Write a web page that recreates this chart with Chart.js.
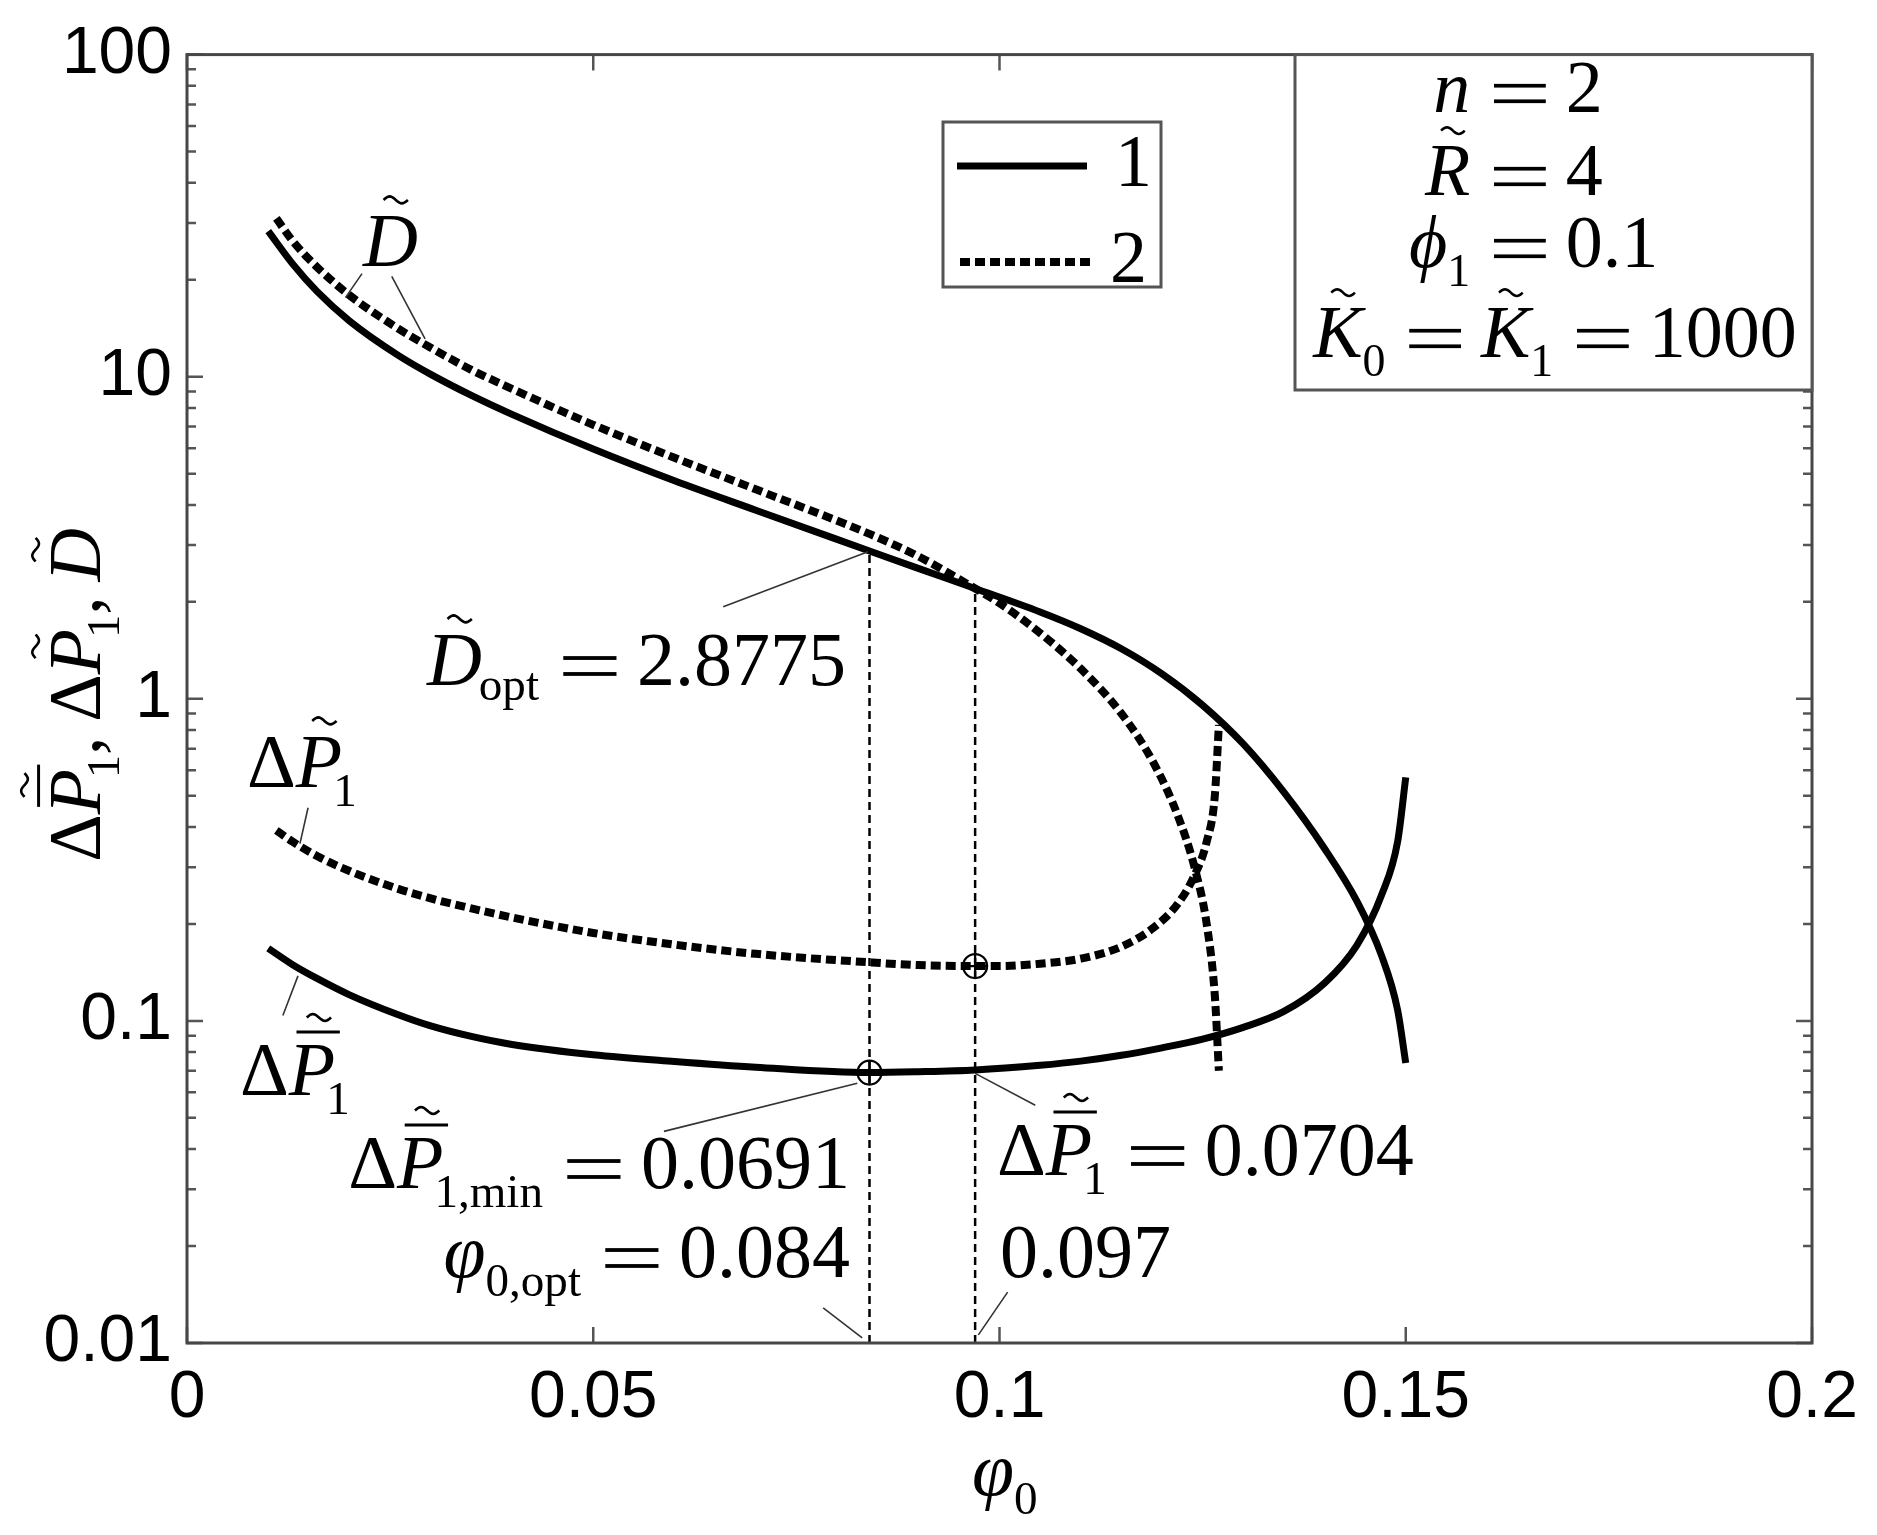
<!DOCTYPE html>
<html><head><meta charset="utf-8">
<script src="https://cdn.jsdelivr.net/npm/chart.js@4.4.1/dist/chart.umd.min.js"></script>
<style>html,body{margin:0;padding:0;background:#fff;}canvas{display:block;}</style>
</head><body>
<canvas id="c" width="1877" height="1535"></canvas>
<script>
// ---- data ----
const phi1 = [0.010,0.013,0.016,0.020,0.026,0.030,0.035,0.040,0.050,0.060,0.070,0.084,0.090,0.097,0.105,0.110,0.115,0.120,0.125,0.130,0.135,0.140,0.144,0.147,0.149,0.150];
const D1   = [28.3,22.4,18.4,14.9,11.65,10.17,8.75,7.64,5.96,4.75,3.85,2.8775,2.54,2.2,1.86,1.65,1.43,1.195,0.955,0.724,0.513,0.343,0.235,0.16,0.108,0.074];
const dP1  = [0.168,0.1495,0.1355,0.1205,0.1045,0.0965,0.0895,0.0845,0.0785,0.0748,0.0718,0.0691,0.0695,0.0704,0.0728,0.075,0.0782,0.0825,0.0878,0.0955,0.107,0.131,0.172,0.245,0.36,0.57];
const phi2 = [0.011,0.013,0.016,0.020,0.026,0.030,0.035,0.040,0.050,0.060,0.070,0.084,0.090,0.097,0.100,0.105,0.110,0.115,0.119,0.122,0.124,0.1255,0.1265,0.127];
const D2   = [31,26.4,21.9,17.9,14.1,12.3,10.5,9.17,7.09,5.6,4.47,3.25,2.77,2.2,1.98,1.6,1.24,0.9,0.63,0.43,0.3,0.2,0.12,0.07];
const dP2  = [0.39,0.36,0.325,0.292,0.257,0.24,0.2235,0.2095,0.1875,0.1725,0.1615,0.152,0.149,0.148,0.148,0.1505,0.156,0.17,0.195,0.232,0.283,0.36,0.5,0.83];
const optPhi = [0.084, 0.097];
const optD   = [2.8775, 2.2];
const markY  = [0.0691, 0.148];
const yFloor = 0.01;
const xTickVals = [0, 0.05, 0.1, 0.15, 0.2];
const xTickLabels = ['0', '0.05', '0.1', '0.15', '0.2'];
const yTickVals = [0.01, 0.1, 1, 10, 100];
const yTickLabels = ['0.01', '0.1', '1', '10', '100'];
const seriesLabels = ['1', '2'];

// ---- chart ----
const pts = (xs, ys) => xs.map((x, i) => ({x: x, y: ys[i]}));
const SOLID = {borderColor: '#000', borderWidth: 7, pointRadius: 0, cubicInterpolationMode: 'monotone', fill: false, borderJoinStyle: 'round'};
const DASH = Object.assign({}, SOLID, {borderWidth: 8, borderDash: [10, 5]});
const VLINE = {borderColor: '#000', borderWidth: 2.5, borderDash: [8, 5], pointRadius: 0, fill: false};
const SERIF = '"Liberation Serif","Times New Roman",serif';

const datasets = [
  Object.assign({label: seriesLabels[0], data: pts(phi1, D1)}, SOLID),
  Object.assign({label: seriesLabels[0], data: pts(phi1, dP1)}, SOLID),
  Object.assign({label: seriesLabels[1], data: pts(phi2, D2)}, DASH),
  Object.assign({label: seriesLabels[1], data: pts(phi2, dP2)}, DASH),
];
optPhi.forEach((p, i) => {
  datasets.push(Object.assign({label: 'v' + i, data: [{x: p, y: yFloor}, {x: p, y: optD[i]}]}, VLINE));
});
datasets.push({label: 'circ', data: pts(optPhi, markY), showLine: false, pointStyle: 'circle', pointRadius: 12, pointBorderWidth: 2.2, pointBorderColor: '#000', pointBackgroundColor: 'rgba(0,0,0,0)', borderColor: '#000'});
datasets.push({label: 'cross', data: pts(optPhi, markY), showLine: false, pointStyle: 'cross', pointRadius: 12, pointBorderWidth: 2.2, pointBorderColor: '#000', borderColor: '#000'});

function itemFont(it, S) { const sz = it.sub ? S * 0.62 : S; return (it.it ? 'italic ' : '') + sz.toFixed(1) + 'px ' + SERIF; }
function tilde(ctx, cx, y, S) {
  const w = S * 0.32, a = S * 0.045;
  ctx.save(); ctx.beginPath(); ctx.lineWidth = S * 0.035; ctx.strokeStyle = '#000';
  for (let k = 0; k <= 20; k++) { const t = k / 20; const px = cx - w / 2 + t * w; const py = y - a * Math.sin(t * 2 * Math.PI); if (k === 0) ctx.moveTo(px, py); else ctx.lineTo(px, py); }
  ctx.stroke(); ctx.restore();
}
function drawMath(ctx, items, x0, y0, S, align) {
  let x = 0; const out = [];
  for (const it of items) {
    x += (it.pre || 0) * S; ctx.font = itemFont(it, S);
    const w = it.eq ? S * 0.7 : ctx.measureText(it.t).width;
    out.push({it: it, x: x, w: w}); x += w + (it.post || 0) * S;
  }
  let bx = x0; if (align === 'right') bx = x0 - x; else if (align === 'center') bx = x0 - x / 2;
  ctx.fillStyle = '#000'; ctx.textBaseline = 'alphabetic'; ctx.textAlign = 'left';
  for (const o of out) {
    const it = o.it;
    if (it.eq) {
      const th = S * 0.05;
      ctx.fillRect(bx + o.x, y0 - S * 0.355 - th / 2, o.w, th);
      ctx.fillRect(bx + o.x, y0 - S * 0.145 - th / 2, o.w, th);
      continue;
    }
    ctx.font = itemFont(it, S);
    const dy = it.sub ? S * (it.dy !== undefined ? it.dy : 0.25) : 0;
    ctx.fillText(it.t, bx + o.x, y0 + dy);
    if (it.acc) {
      const cx = bx + o.x + o.w / 2 + S * 0.07;
      if (it.acc === 'tilde') tilde(ctx, cx, y0 - S * 0.87, S);
      else {
        ctx.save(); ctx.beginPath(); ctx.lineWidth = S * 0.04; ctx.strokeStyle = '#000';
        ctx.moveTo(bx + o.x + S * 0.1, y0 - S * 0.83); ctx.lineTo(bx + o.x + o.w + S * 0.06, y0 - S * 0.83); ctx.stroke(); ctx.restore();
        tilde(ctx, cx + S * 0.02, y0 - S * 1.02, S);
      }
    }
  }
  return x;
}
const EQ = {eq: 1, pre: 0.32, post: 0.27};
const S = 76;
const annotations = [
  {items: [{t: 'D', it: 1, acc: 'tilde'}], x: 363, y: 266, al: 'left'},
  {items: [{t: 'D', it: 1, acc: 'tilde'}, {t: 'opt', sub: 1, pre: -0.04, dy: 0.2}, EQ, {t: '2.8775'}], x: 846, y: 685, al: 'right'},
  {items: [{t: 'Δ'}, {t: 'P', it: 1, acc: 'tilde'}, {t: '1', sub: 1, pre: -0.12}], x: 247, y: 787, al: 'left'},
  {items: [{t: 'Δ'}, {t: 'P', it: 1, acc: 'bartilde'}, {t: '1', sub: 1, pre: -0.12}], x: 240, y: 1095, al: 'left'},
  {items: [{t: 'Δ'}, {t: 'P', it: 1, acc: 'bartilde'}, {t: '1,min', sub: 1, pre: -0.12}, EQ, {t: '0.0691'}], x: 850, y: 1188, al: 'right'},
  {items: [{t: 'φ', it: 1}, {t: '0,opt', sub: 1}, EQ, {t: '0.084'}], x: 850, y: 1277, al: 'right'},
  {items: [{t: 'Δ'}, {t: 'P', it: 1, acc: 'bartilde'}, {t: '1', sub: 1, pre: -0.12}, EQ, {t: '0.0704'}], x: 997, y: 1175, al: 'left'},
  {items: [{t: '0.097'}], x: 1000, y: 1277, al: 'left'},
];
// leader lines, in data coordinates [x1,y1,x2,y2]
const leaders = [
  [0.02154, 20.9, 0.0195, 17.6],
  [0.0252, 20.5, 0.0293, 13.1],
  [0.066, 1.93, 0.0838, 2.86],
  [0.0149, 0.459, 0.0139, 0.355],
  [0.0118, 0.104, 0.01366, 0.138],
  [0.0587, 0.0454, 0.0825, 0.064],
  [0.097, 0.0687, 0.1044, 0.0547],
  [0.101, 0.01439, 0.0974, 0.0106],
  [0.0783, 0.01285, 0.0831, 0.01037],
];

const decor = {
  id: 'decor',
  afterDraw(chart) {
    const ctx = chart.ctx, a = chart.chartArea, xs = chart.scales.x, ys = chart.scales.y;
    ctx.save();
    // ticks
    ctx.strokeStyle = '#555'; ctx.lineWidth = 2.5;
    ctx.beginPath();
    for (let e = -2; e <= 2; e++) {
      for (let k = 1; k <= 9; k++) {
        const v = k * Math.pow(10, e); if (v > 100.0001) break;
        const py = ys.getPixelForValue(v); const L = k === 1 ? 16 : 9;
        ctx.moveTo(a.left, py); ctx.lineTo(a.left + L, py);
        ctx.moveTo(a.right, py); ctx.lineTo(a.right - L, py);
      }
    }
    xTickVals.forEach(v => { const px = xs.getPixelForValue(v); ctx.moveTo(px, a.bottom); ctx.lineTo(px, a.bottom - 16); ctx.moveTo(px, a.top); ctx.lineTo(px, a.top + 16); });
    ctx.stroke();
    // frame
    ctx.strokeStyle = '#474747'; ctx.lineWidth = 3;
    ctx.strokeRect(a.left, a.top, a.right - a.left, a.bottom - a.top);
    // leaders
    ctx.strokeStyle = '#333'; ctx.lineWidth = 1.6;
    ctx.beginPath();
    leaders.forEach(l => { ctx.moveTo(xs.getPixelForValue(l[0]), ys.getPixelForValue(l[1])); ctx.lineTo(xs.getPixelForValue(l[2]), ys.getPixelForValue(l[3])); });
    ctx.stroke();
    // annotations
    annotations.forEach(an => drawMath(ctx, an.items, an.x, an.y, S, an.al));
    // legend box
    ctx.fillStyle = '#fff'; ctx.fillRect(943, 122, 218, 165);
    ctx.strokeStyle = '#555'; ctx.lineWidth = 3; ctx.strokeRect(943, 122, 218, 165);
    const d0 = chart.data.datasets[0], d2 = chart.data.datasets[2];
    ctx.strokeStyle = '#000';
    ctx.setLineDash([]); ctx.lineWidth = d0.borderWidth; ctx.beginPath(); ctx.moveTo(957, 166); ctx.lineTo(1087, 166); ctx.stroke();
    ctx.setLineDash(d2.borderDash); ctx.lineWidth = d2.borderWidth; ctx.beginPath(); ctx.moveTo(960, 262); ctx.lineTo(1090, 262); ctx.stroke();
    ctx.setLineDash([]);
    ctx.fillStyle = '#000'; ctx.font = '74px ' + SERIF; ctx.textAlign = 'left'; ctx.textBaseline = 'alphabetic';
    ctx.fillText(d0.label, 1115, 186); ctx.fillText(d2.label, 1110, 282);
    // parameter box
    ctx.fillStyle = '#fff'; ctx.fillRect(1295, a.top, a.right - 1295, 390 - a.top);
    ctx.strokeStyle = '#555'; ctx.lineWidth = 3; ctx.strokeRect(1295, a.top, a.right - 1295, 390 - a.top);
    const P = 74, xe = 1494 - 0.32 * P;
    drawMath(ctx, [{t: 'n', it: 1}], xe, 112, P, 'right');
    drawMath(ctx, [EQ, {t: '2'}], xe, 112, P, 'left');
    drawMath(ctx, [{t: 'R', it: 1, acc: 'tilde'}], xe, 195, P, 'right');
    drawMath(ctx, [EQ, {t: '4'}], xe, 195, P, 'left');
    drawMath(ctx, [{t: 'ϕ', it: 1}, {t: '1', sub: 1}], xe, 267, P, 'right');
    drawMath(ctx, [EQ, {t: '0.1'}], xe, 267, P, 'left');
    drawMath(ctx, [{t: 'K', it: 1, acc: 'tilde'}, {t: '0', sub: 1}, EQ, {t: 'K', it: 1, acc: 'tilde'}, {t: '1', sub: 1}, EQ, {t: '1000'}], 1555, 357, P, 'center');
    // axis titles
    drawMath(ctx, [{t: 'φ', it: 1}, {t: '0', sub: 1}], 972, 1495, S, 'left');
    ctx.save(); ctx.translate(100, 695); ctx.rotate(-Math.PI / 2);
    drawMath(ctx, [{t: 'Δ'}, {t: 'P', it: 1, acc: 'bartilde'}, {t: '1', sub: 1, pre: -0.12}, {t: ',', post: 0.2}, {t: 'Δ'}, {t: 'P', it: 1, acc: 'tilde'}, {t: '1', sub: 1, pre: -0.12}, {t: ',', post: 0.2}, {t: 'D', it: 1, acc: 'tilde'}], 0, 0, 74, 'center');
    ctx.restore();
    ctx.restore();
  }
};

new Chart(document.getElementById('c'), {
  type: 'line',
  data: {datasets: datasets},
  options: {
    responsive: false, animation: false, devicePixelRatio: 1,
    layout: {padding: {top: 53, right: 65, left: 0, bottom: 0}},
    plugins: {legend: {display: false}, tooltip: {enabled: false}},
    scales: {
      x: {
        type: 'linear', min: 0, max: 0.2,
        afterBuildTicks: s => { s.ticks = xTickVals.map(v => ({value: v})); },
        afterFit: s => { s.height = 192; },
        grid: {display: false, drawTicks: false}, border: {display: false},
        ticks: {callback: (v, i) => xTickLabels[i], font: {family: '"Liberation Sans", Arial, sans-serif', size: 66}, color: '#000', padding: 16, maxRotation: 0, autoSkip: false}
      },
      y: {
        type: 'logarithmic', min: 0.01, max: 100,
        afterBuildTicks: s => { s.ticks = yTickVals.map(v => ({value: v})); },
        afterFit: s => { s.width = 187; },
        grid: {display: false, drawTicks: false}, border: {display: false},
        ticks: {callback: (v, i) => yTickLabels[i], font: {family: '"Liberation Sans", Arial, sans-serif', size: 66}, color: '#000', padding: 15, autoSkip: false}
      }
    }
  },
  plugins: [decor]
});
</script>
</body></html>
